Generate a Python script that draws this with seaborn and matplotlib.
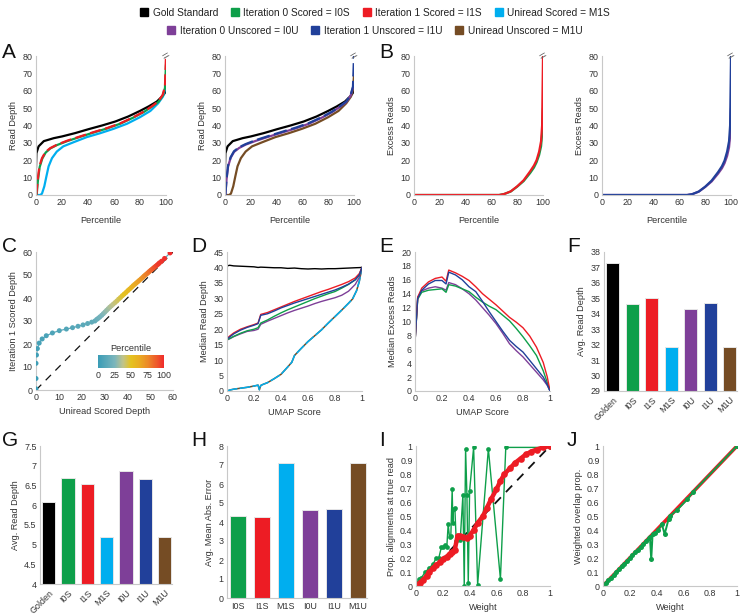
import matplotlib
matplotlib.use("Agg")
import matplotlib.pyplot as plt
import seaborn as sns
import numpy as np
import pandas as pd
from matplotlib.colors import LinearSegmentedColormap, Normalize
from matplotlib.ticker import FuncFormatter, MultipleLocator
from matplotlib.lines import Line2D
from matplotlib.cm import ScalarMappable

# ---------------- colours / names ----------------
COL = {"Gold": "#000000", "I0S": "#0e9f4a", "I1S": "#ed1c24", "M1S": "#00aeef",
       "I0U": "#7e3f98", "I1U": "#21409a", "M1U": "#754c24"}
LEGEND_LABELS = ["Gold Standard", "Iteration 0 Scored = I0S", "Iteration 1 Scored = I1S",
                 "Uniread Scored = M1S", "Iteration 0 Unscored = I0U",
                 "Iteration 1 Unscored = I1U", "Uniread Unscored = M1U"]
LEGEND_KEYS = ["Gold", "I0S", "I1S", "M1S", "I0U", "I1U", "M1U"]

# ---------------- Panel A data (percentile vs read depth) ----------------
gold_pct = [0, 0.3, 2, 6, 13.6, 20, 30, 40.5, 50.8, 61, 71, 80, 86.7, 93, 97, 99, 100]
gold_depth = [15.5, 24, 28, 31, 32.7, 33.7, 35.6, 37.9, 40, 42.3, 45.2, 48.4, 51, 53.8, 56.7, 58.6, 62]

i1s_pct = [0.3, 1.3, 2.6, 4.6, 7.2, 11, 16, 23.8, 34, 44.4, 54.6, 65, 75, 83, 89, 94, 97.4, 99.2, 100]
i1s_depth = [0, 8.8, 16.5, 21.2, 24.7, 27, 28.9, 31.2, 33.7, 36.2, 38.5, 41.3, 44.8, 48, 51, 53.8, 57.6, 62.4, 80]
i0s_pct = [0.5, 1.5, 2.8, 4.8, 7.4, 11, 16, 24, 34, 44.4, 54.6, 65, 75, 83, 89, 94, 97.4, 99.2, 100]
i0s_depth = [0, 8.5, 16, 20.9, 24.4, 26.8, 28.7, 31, 33.5, 36, 38.3, 41.1, 44.6, 47.8, 50.8, 53.5, 57, 61.5, 75]
m1s_pct = [0, 3.3, 4.6, 6.4, 8, 9.7, 12.3, 16, 21, 29, 39, 49.5, 59.7, 70, 80, 88, 94, 97.7, 99.2, 100]
m1s_depth = [0, 0, 0.8, 5, 10.7, 16.5, 21.2, 25, 28, 30.4, 33.3, 35.6, 38.1, 41, 44.8, 48.4, 52.8, 56.7, 60.5, 69]

i1u_pct = [0.3, 1.2, 2.4, 4.4, 7, 11, 16, 24, 34, 44.4, 54.6, 65, 75, 83, 89, 94, 97.4, 99.2, 100]
i1u_depth = [0, 9.5, 17, 21.8, 25.2, 27.5, 29.3, 31.6, 34, 36.4, 38.7, 41.4, 44.8, 48, 51, 53.8, 57.6, 62.4, 80]
i0u_pct = [0.3, 1.2, 2.4, 4.4, 7, 11, 16, 24, 34, 44.4, 54.6, 65, 75, 83, 89, 94, 97.4, 99.2, 100]
i0u_depth = [0, 9, 16.5, 21.4, 24.8, 27.1, 29, 31.2, 33.6, 36, 38.3, 41, 44.5, 47.7, 50.7, 53.5, 57.2, 61.8, 65]
m1u_pct = [0, 3.3, 4.6, 6.4, 8, 9.7, 12.3, 16, 21, 29, 39, 49.5, 59.7, 70, 80, 88, 94, 97.7, 99.2, 100]
m1u_depth = [0, 0, 0.8, 5, 10.7, 16.5, 21.2, 25, 28, 30.4, 33.3, 35.6, 38.1, 41, 44.8, 48.4, 52.8, 56.7, 60.5, 69]

# ---------------- Panel B data (percentile vs excess reads) ----------------
b_pct = [0, 66, 70, 75, 80, 85, 90, 93, 95, 97, 98.5, 99.3, 100]
b_i1s = [0, 0, 0.6, 2.1, 5, 8.5, 13.6, 17, 20, 25, 31, 40, 80]
b_i0s = [0, 0, 0.6, 2.0, 4.8, 8, 12.6, 15.8, 18.8, 23, 28, 35, 50]
b_i1u = [0, 0, 0.5, 2.0, 4.8, 8.3, 13.2, 16.6, 19.8, 25, 31, 40, 80]
b_i0u = [0, 0, 0.5, 1.9, 4.6, 7.8, 12.3, 15.4, 18.3, 22.5, 27.5, 34, 50]

# ---------------- Panel C data ----------------
c_pct = list(range(0, 17)) + list(range(18, 97, 2)) + [97, 98, 99, 100]
c_m1s = [0, 0, 0, 0.2, 0.6, 1.4, 2.7, 4.5, 7.2, 10.2, 13.3, 16.0, 18.4, 20.6, 22.6, 24.4, 25.8,
         26.6, 27.3, 28.0, 28.8, 29.5, 30.2, 30.9, 31.6, 32.3, 33.0, 33.8, 34.6, 35.4, 36.2, 37.0,
         37.8, 38.6, 39.4, 40.2, 41.0, 41.8, 42.5, 43.2, 43.9, 44.6, 45.3, 46.0, 46.7, 47.3, 47.9,
         48.5, 49.1, 49.6, 50.2, 50.7, 51.3, 51.8, 52.4, 53.0, 53.6, 54.1, 55.0, 56.3, 58.7]
c_i1s = [0.5, 5, 11.6, 15.2, 18, 20.4, 22.2, 23.6, 24.8, 25.8, 26.5, 27.1, 27.7, 28.3, 28.9, 29.5, 30.0,
         30.7, 31.2, 31.8, 32.5, 33.2, 33.9, 34.6, 35.3, 36.0, 36.6, 37.3, 38.0, 38.7, 39.5, 40.2,
         41.0, 41.7, 42.4, 43.2, 43.9, 44.6, 45.3, 45.9, 46.5, 47.1, 47.7, 48.3, 48.9, 49.5, 50.0,
         50.5, 51.0, 51.5, 52.0, 52.4, 52.9, 53.3, 53.8, 54.3, 54.8, 55.3, 56.0, 57.2, 59.6]
c_diag = [0, 60]
cbar_ticks = [0, 25, 50, 75, 100]

# ---------------- Panels D / E data (UMAP score) ----------------
umap_x = [0, 0.02, 0.05, 0.1, 0.15, 0.2, 0.23, 0.25, 0.3, 0.35, 0.4, 0.45, 0.5, 0.55,
          0.6, 0.65, 0.7, 0.75, 0.8, 0.85, 0.9, 0.95, 0.98, 1.0]
d_gold = [40.5, 40.7, 40.5, 40.4, 40.3, 40.2, 40.0, 40.1, 40.0, 39.9, 39.9, 39.7, 39.8, 39.6,
          39.5, 39.6, 39.5, 39.6, 39.6, 39.7, 39.8, 39.9, 39.95, 40.0]
d_i1s = [17.0, 17.8, 18.8, 20.0, 20.8, 21.5, 22.0, 24.8, 25.4, 26.3, 27.2, 28.1, 29.0, 29.8,
         30.6, 31.4, 32.2, 32.9, 33.7, 34.5, 35.4, 36.6, 38.0, 40.0]
d_i1u = [16.8, 17.5, 18.5, 19.7, 20.6, 21.3, 21.8, 24.5, 25.0, 25.9, 26.9, 27.7, 28.5, 29.2,
         29.9, 30.6, 31.3, 32.0, 32.7, 33.6, 34.6, 36.0, 37.6, 40.0]
d_i0s = [16.6, 17.0, 17.7, 18.7, 19.5, 20.0, 20.5, 22.0, 23.0, 24.2, 25.3, 26.3, 27.2, 28.1,
         29.0, 29.9, 30.7, 31.5, 32.2, 33.3, 34.5, 36.0, 37.5, 40.0]
d_i0u = [16.5, 16.9, 17.6, 18.5, 19.3, 19.6, 20.0, 21.6, 22.6, 23.5, 24.4, 25.3, 26.1, 26.8,
         27.5, 28.3, 29.0, 29.6, 30.2, 31.0, 32.3, 34.5, 36.8, 40.0]
d_m_x = [0, 0.02, 0.05, 0.1, 0.15, 0.2, 0.23, 0.24, 0.25, 0.27, 0.3, 0.35, 0.4, 0.45, 0.48,
         0.5, 0.55, 0.6, 0.65, 0.7, 0.75, 0.8, 0.85, 0.9, 0.93, 0.96, 0.98, 1.0]
d_m1s = [0, 0.3, 0.6, 0.9, 1.2, 1.6, 1.9, 0.4, 1.8, 2.2, 2.7, 4.0, 5.4, 7.8, 9.3, 11.5, 13.8,
         16.0, 17.9, 19.8, 22.0, 24.1, 26.2, 28.4, 29.8, 32.5, 35.5, 40.0]
d_m1u = [0, 0.3, 0.6, 0.9, 1.2, 1.6, 1.9, 0.4, 1.8, 2.2, 2.7, 4.0, 5.4, 7.8, 9.3, 11.5, 13.8,
         16.0, 17.9, 19.8, 22.0, 24.1, 26.2, 28.4, 29.8, 32.5, 35.5, 40.0]

e_i1s = [7.0, 13.5, 14.8, 15.7, 16.2, 16.4, 15.8, 17.4, 17.0, 16.5, 15.9, 15.0, 14.0, 13.2,
         12.4, 11.5, 10.6, 9.9, 9.1, 7.9, 6.3, 4.1, 2.0, 0.0]
e_i0s = [7.0, 13.2, 14.2, 14.5, 14.6, 14.7, 14.2, 15.3, 15.1, 14.7, 14.3, 13.5, 12.8, 12.2,
         11.7, 10.9, 10.1, 9.0, 7.8, 6.5, 5.1, 2.9, 1.2, 0.0]
e_i1u = [7.0, 13.3, 14.5, 15.4, 15.9, 15.9, 15.4, 17.1, 16.7, 16.0, 15.0, 14.3, 12.9, 11.4,
         10.0, 8.6, 7.3, 6.4, 5.6, 4.4, 3.2, 2.0, 0.9, 0.0]
e_i0u = [7.0, 13.5, 14.4, 14.8, 15.0, 14.8, 14.5, 15.6, 15.3, 14.7, 14.0, 13.1, 12.0, 10.9,
         9.7, 8.3, 6.8, 5.8, 4.9, 3.8, 2.7, 1.6, 0.8, 0.0]

# ---------------- Bar panels ----------------
f_cats = ["Golden", "I0S", "I1S", "M1S", "I0U", "I1U", "M1U"]
f_vals = [37.3, 34.65, 35.0, 31.85, 34.3, 34.72, 31.85]
g_cats = ["Golden", "I0S", "I1S", "M1S", "I0U", "I1U", "M1U"]
g_vals = [6.08, 6.70, 6.53, 5.20, 6.87, 6.67, 5.20]
h_cats = ["I0S", "I1S", "M1S", "I0U", "I1U", "M1U"]
h_vals = [4.33, 4.25, 7.10, 4.65, 4.67, 7.10]

# ---------------- Panel I / J ----------------
i_w = [0, 0.01, 0.02, 0.04, 0.07, 0.1, 0.13, 0.15, 0.17, 0.19, 0.2, 0.22, 0.23, 0.24, 0.25,
       0.26, 0.27, 0.275, 0.28, 0.29, 0.3, 0.33, 0.35, 0.36, 0.37, 0.38, 0.39, 0.4, 0.43, 0.46,
       0.54, 0.63, 0.67, 1.0]
i_y = [0, 0.02, 0.05, 0.06, 0.1, 0.13, 0.16, 0.2, 0.2, 0.28, 0.28, 0.29, 0.28, 0.44, 0.35,
       0.36, 0.69, 0.45, 0.55, 0.56, 0.32, 0.33, 0.65, 0.0, 0.98, 0.65, 0.02, 0.68, 0.99, 0.01,
       0.98, 0.05, 0.99, 0.99]
i_red_w = [0, 0.03, 0.05, 0.08, 0.1, 0.13, 0.15, 0.18, 0.2, 0.23, 0.25, 0.27, 0.29, 0.31, 0.33,
           0.35, 0.38, 0.4, 0.43, 0.46, 0.5, 0.53, 0.56, 0.6, 0.63, 0.66, 0.7, 0.74, 0.78, 0.82,
           0.86, 0.9, 0.95, 1.0]
i_red_y = [0, 0.025, 0.04, 0.075, 0.1, 0.13, 0.15, 0.17, 0.19, 0.21, 0.23, 0.245, 0.26, 0.36,
           0.355, 0.35, 0.345, 0.36, 0.4, 0.45, 0.5, 0.56, 0.62, 0.69, 0.75, 0.8, 0.84, 0.88,
           0.91, 0.94, 0.96, 0.975, 0.99, 1.0]
i_diag = [0, 1]
j_w = [0, 0.02, 0.04, 0.06, 0.08, 0.1, 0.12, 0.14, 0.16, 0.18, 0.2, 0.22, 0.24, 0.26, 0.28,
       0.3, 0.32, 0.34, 0.35, 0.36, 0.37, 0.39, 0.41, 0.44, 0.46, 0.49, 0.5, 0.55, 0.63, 0.67, 1.0]
j_y = [0, 0.02, 0.04, 0.06, 0.08, 0.1, 0.12, 0.14, 0.16, 0.18, 0.2, 0.22, 0.24, 0.26, 0.28,
       0.3, 0.32, 0.34, 0.35, 0.19, 0.37, 0.38, 0.4, 0.44, 0.37, 0.48, 0.5, 0.54, 0.62, 0.67, 1.0]
j_red_w = [0, 0.25, 0.5, 0.75, 1.0]
j_red_y = [0, 0.25, 0.5, 0.75, 1.0]

# ---------------- style ----------------
sns.set_theme(style="white")
plt.rcParams["font.family"] = ["Liberation Sans", "DejaVu Sans"]
TXT = "#333333"
SPINE = "#c8c8c8"
TICK_FS = 6.4
LAB_FS = 6.6

W, H = 740, 614
fig = plt.figure(figsize=(W / 100, H / 100), dpi=100)


def add_ax(l, t, r, b):
    return fig.add_axes([l / W, 1 - b / H, (r - l) / W, (b - t) / H])


fmt = FuncFormatter(lambda v, p: f"{v:g}")


def style(ax, xlim=None, ylim=None, xstep=None, ystep=None, xlabel="", ylabel=""):
    if xlim is not None:
        ax.set_xlim(xlim)
    if ylim is not None:
        ax.set_ylim(ylim)
    if xstep is not None:
        ax.xaxis.set_major_locator(MultipleLocator(xstep))
        ax.xaxis.set_major_formatter(fmt)
    if ystep is not None:
        ax.yaxis.set_major_locator(MultipleLocator(ystep))
        ax.yaxis.set_major_formatter(fmt)
    for s in ["top", "right"]:
        ax.spines[s].set_visible(False)
    for s in ["left", "bottom"]:
        ax.spines[s].set_color(SPINE)
        ax.spines[s].set_linewidth(0.8)
    ax.tick_params(length=0, labelsize=TICK_FS, pad=2.5, colors=TXT)
    ax.set_xlabel(xlabel, fontsize=LAB_FS, color=TXT, labelpad=3)
    ax.set_ylabel(ylabel, fontsize=LAB_FS, color=TXT, labelpad=3)
    ax.grid(False)
    ax.set_facecolor("none")


def line(ax, x, y, color, lw=1.5, ls="-", **kw):
    sns.lineplot(x=x, y=y, color=color, linewidth=lw, linestyle=ls, ax=ax,
                 estimator=None, sort=False, **kw)


def breakmark(ax):
    ax.text(ax.get_xlim()[1], ax.get_ylim()[1], "=", rotation=30, ha="center", va="center",
            fontsize=9, color="#666666", clip_on=False)


# ---------------- Panel A ----------------
axA1 = add_ax(36, 56, 166, 195)
line(axA1, gold_pct, gold_depth, COL["Gold"], 1.6)
line(axA1, m1s_pct, m1s_depth, COL["M1S"], 1.6)
line(axA1, i0s_pct, i0s_depth, COL["I0S"], 1.6)
line(axA1, i1s_pct, i1s_depth, COL["I1S"], 1.6, ls=(0, (5, 2)))
style(axA1, (0, 100), (0, 80), 20, 10, "", "Read Depth")
breakmark(axA1)

axA2 = add_ax(225, 56, 354, 195)
line(axA2, gold_pct, gold_depth, COL["Gold"], 1.6)
line(axA2, m1u_pct, m1u_depth, COL["M1U"], 1.6)
line(axA2, i0u_pct, i0u_depth, COL["I0U"], 1.6)
line(axA2, i1u_pct, i1u_depth, COL["I1U"], 1.6, ls=(0, (6, 2)))
style(axA2, (0, 100), (0, 80), 20, 10, "", "Read Depth")
breakmark(axA2)

# ---------------- Panel B ----------------
axB1 = add_ax(414, 56, 543, 195)
line(axB1, b_pct, b_i0s, COL["I0S"], 1.6)
line(axB1, b_pct, b_i1s, COL["I1S"], 1.6)
style(axB1, (0, 100), (0, 80), 20, 10, "", "Excess Reads")
breakmark(axB1)

axB2 = add_ax(602, 56, 731, 195)
line(axB2, b_pct, b_i0u, COL["I0U"], 1.6)
line(axB2, b_pct, b_i1u, COL["I1U"], 1.6)
style(axB2, (0, 100), (0, 80), 20, 10, "", "Excess Reads")
breakmark(axB2)

for ax_ in (axA1, axA2, axB1, axB2):
    ax_.set_xlabel("Percentile", fontsize=LAB_FS, color=TXT, labelpad=6)

# ---------------- Panel C ----------------
cmap = LinearSegmentedColormap.from_list(
    "pct", [(0, "#3a9cb6"), (0.25, "#7ab5bc"), (0.38, "#c0c38a"), (0.5, "#e5c21f"),
            (0.62, "#e9ad22"), (0.75, "#ec8b29"), (0.9, "#ee552b"), (1, "#ef2b2b")])
axC = add_ax(36, 252, 173, 390)
line(axC, c_diag, c_diag, "#111111", 0.9, ls=(0, (6, 5)))
line(axC, c_m1s, c_i1s, "#5aaabb", 0.9)
sns.scatterplot(x=c_m1s, y=c_i1s, hue=c_pct, palette=cmap, hue_norm=(0, 100), legend=False,
                s=13, edgecolor="none", ax=axC, zorder=5)
style(axC, (0, 60), (0, 60), 10, 10, "Uniread Scored Depth", "Iteration 1 Scored Depth")
cax = add_ax(98, 355, 164, 368)
cb = fig.colorbar(ScalarMappable(norm=Normalize(0, 100), cmap=cmap), cax=cax,
                  orientation="horizontal", ticks=cbar_ticks)
cb.outline.set_visible(False)
cax.tick_params(length=0, labelsize=TICK_FS, pad=2, colors=TXT)
cax.set_title("Percentile", fontsize=LAB_FS, color=TXT, pad=3)

# ---------------- Panel D ----------------
axD = add_ax(227, 252, 362, 391)
line(axD, umap_x, d_gold, COL["Gold"], 1.0)
line(axD, d_m_x, d_m1u, COL["M1U"], 1.1)
line(axD, d_m_x, d_m1s, COL["M1S"], 1.1, ls=(0, (7, 1.5)))
line(axD, umap_x, d_i0u, COL["I0U"], 1.0)
line(axD, umap_x, d_i0s, COL["I0S"], 1.0)
line(axD, umap_x, d_i1s, COL["I1S"], 1.0)
line(axD, umap_x, d_i1u, COL["I1U"], 1.0)
style(axD, (0, 1), (0, 45), 0.2, 5, "UMAP Score", "Median Read Depth")

# ---------------- Panel E ----------------
axE = add_ax(415, 252, 550, 391)
line(axE, umap_x, e_i0u, COL["I0U"], 1.0)
line(axE, umap_x, e_i0s, COL["I0S"], 1.0)
line(axE, umap_x, e_i1s, COL["I1S"], 1.0)
line(axE, umap_x, e_i1u, COL["I1U"], 1.0)
style(axE, (0, 1), (0, 20), 0.2, 2, "UMAP Score", "Median Excess Reads")


# ---------------- Bars ----------------
def bars(ax, cats, vals, keys, ylim, ystep, ylabel, rotate):
    sns.barplot(x=cats, y=vals, hue=cats, palette=[COL[k] for k in keys], legend=False,
                width=0.68, saturation=1, edgecolor="#e6e6e6", linewidth=0.7, ax=ax)
    style(ax, (-0.45, len(cats) - 0.62), ylim, None, ystep, "", ylabel)
    if rotate:
        ax.set_xticks(range(len(cats)))
        ax.set_xticklabels(cats, rotation=45, ha="right", rotation_mode="anchor")
    ax.tick_params(axis="x", pad=3)


axF = add_ax(604, 252, 737, 391)
bars(axF, f_cats, f_vals, ["Gold", "I0S", "I1S", "M1S", "I0U", "I1U", "M1U"], (29, 38), 1,
     "Avg. Read Depth", True)

axG = add_ax(40, 446, 172, 584)
bars(axG, g_cats, g_vals, ["Gold", "I0S", "I1S", "M1S", "I0U", "I1U", "M1U"], (4, 7.5), 0.5,
     "Avg. Read Depth", True)

axH = add_ax(227, 446, 367, 598)
bars(axH, h_cats, h_vals, ["I0S", "I1S", "M1S", "I0U", "I1U", "M1U"], (0, 8), 1,
     "Avg. Mean Abs. Error", False)

# ---------------- Panel I ----------------
axI = add_ax(416, 446, 550, 586)
line(axI, i_diag, i_diag, "#111111", 1.3, ls=(0, (5, 4)))
line(axI, i_w, i_y, COL["I0S"], 1.0, marker="o", markersize=3.4, markeredgewidth=0)
line(axI, i_red_w, i_red_y, COL["I1S"], 3.2, marker="o", markersize=4.8, markeredgewidth=0)
style(axI, (0, 1), (0, 1), 0.2, 0.1, "Weight", "Prop. alignments at true read")

# ---------------- Panel J ----------------
axJ = add_ax(603, 446, 737, 586)
line(axJ, j_red_w, j_red_y, COL["I1S"], 2.6)
line(axJ, j_w, j_y, COL["I0S"], 1.4, marker="o", markersize=3.6, markeredgewidth=0)
style(axJ, (0, 1), (0, 1), 0.2, 0.1, "Weight", "Weighted overlap prop.")

# ---------------- Panel letters ----------------
for letter, (px, py) in {"A": (2, 52), "B": (379, 52), "C": (2, 246), "D": (191, 246),
                         "E": (379, 246), "F": (567, 246), "G": (2, 441), "H": (191, 441),
                         "I": (379, 441), "J": (567, 441)}.items():
    fig.text(px / W, 1 - py / H, letter, fontsize=15, ha="left", va="center", color="#111111")

# ---------------- Legend ----------------
handles = [Line2D([], [], marker="s", linestyle="none", markersize=5.5,
                  markerfacecolor=COL[k], markeredgecolor=COL[k]) for k in LEGEND_KEYS]
leg1 = fig.legend(handles[:4], LEGEND_LABELS[:4], loc="center", ncol=4, frameon=False,
                  bbox_to_anchor=(0.507, 1 - 13 / H), fontsize=7.3, handlelength=0.7,
                  handletextpad=0.5, columnspacing=1.3, borderaxespad=0, borderpad=0)
for t in leg1.get_texts():
    t.set_color("#222222")
leg2 = fig.legend(handles[4:], LEGEND_LABELS[4:], loc="center", ncol=3, frameon=False,
                  bbox_to_anchor=(0.507, 1 - 31 / H), fontsize=7.3, handlelength=0.7,
                  handletextpad=0.5, columnspacing=1.3, borderaxespad=0, borderpad=0)
for t in leg2.get_texts():
    t.set_color("#222222")

fig.savefig("out.png", dpi=100)
